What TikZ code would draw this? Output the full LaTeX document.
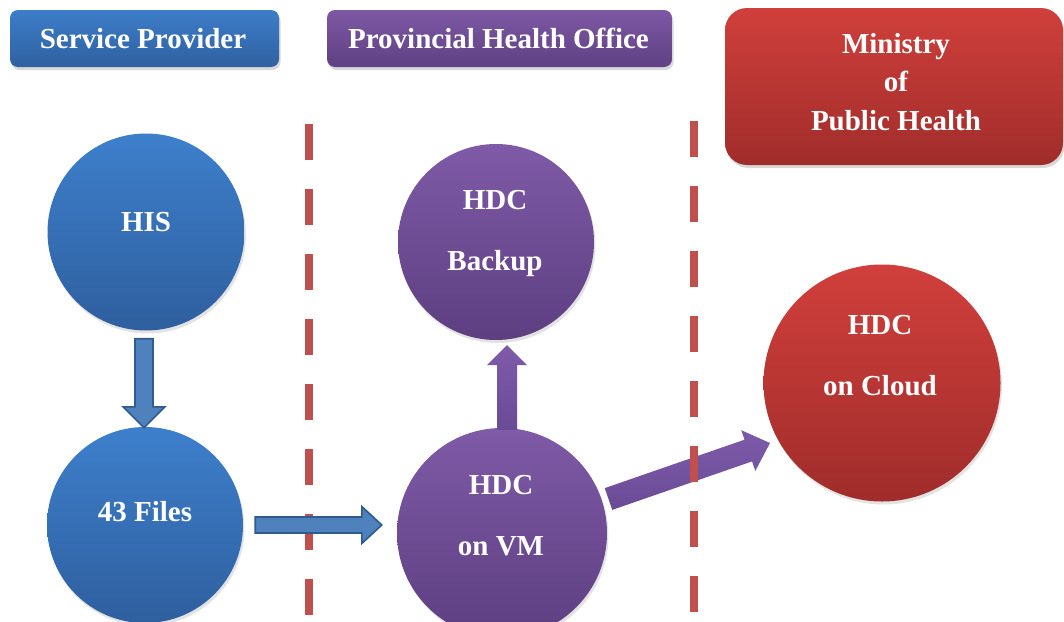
\documentclass[tikz,border=0pt]{standalone}
\usepackage{fontspec}
\setmainfont{Liberation Serif}
\usetikzlibrary{calc,shadows}
\definecolor{bluetop}{HTML}{3E80CD}
\definecolor{bluebot}{HTML}{2E5E9D}
\definecolor{purtop}{HTML}{805BA8}
\definecolor{purbot}{HTML}{5C3E80}
\definecolor{redtop}{HTML}{D2403C}
\definecolor{redbot}{HTML}{9E2C2A}
\definecolor{dashred}{HTML}{C0504D}
\definecolor{arrblue}{HTML}{4F81BD}
\definecolor{arrblueline}{HTML}{2F5B8E}
\definecolor{arrpurtop}{HTML}{7E5BA9}
\definecolor{arrpurbot}{HTML}{6A4B96}
\tikzset{
  txt/.style={text=white, font=\fontsize{29}{35}\selectfont\bfseries, align=center, inner sep=0pt},
  txtwide/.style={txt, font=\fontsize{29}{61}\selectfont\bfseries},
  txtmid/.style={txt, font=\fontsize{29}{38.5}\selectfont\bfseries},
  hdr/.style={rounded corners=8pt, inner sep=0pt,
    drop shadow={opacity=0.3, shadow xshift=1.5pt, shadow yshift=-3pt}},
  bubble/.style={circle, inner sep=0pt,
    drop shadow={opacity=0.22, shadow xshift=1.5pt, shadow yshift=-3pt}},
  grad/.style 2 args={path picture={
    \shade[top color=#1, bottom color=#2]
      ([shift={(-6pt,6pt)}]path picture bounding box.north west) rectangle
      ([shift={(6pt,-6pt)}]path picture bounding box.south east);}},
  bluefill/.style={grad={bluetop}{bluebot}},
  purfill/.style={grad={purtop}{purbot}},
  redfill/.style={grad={redtop}{redbot}},
  sepline/.style={draw=dashred, line width=8pt, dash pattern=on 36pt off 29pt},
  barrow/.style={fill=arrblue, draw=arrblueline, line width=1.6pt, line join=miter},
  parrow/.style={top color=arrpurtop, bottom color=arrpurbot},
}
% #1 style, #2 tail, #3 tip, #4 shaft half width, #5 head half width, #6 head length
\newcommand\blockarr[6]{%
  \path[#1] let \p1=(#2), \p2=(#3), \n1={atan2(\y2-\y1,\x2-\x1)} in
    ($(#2)+({\n1+90}:#4)$)
    -- ($(#3)+({\n1+180}:#6)+({\n1+90}:#4)$)
    -- ($(#3)+({\n1+180}:#6)+({\n1+90}:#5)$)
    -- (#3)
    -- ($(#3)+({\n1+180}:#6)+({\n1-90}:#5)$)
    -- ($(#3)+({\n1+180}:#6)+({\n1-90}:#4)$)
    -- ($(#2)+({\n1-90}:#4)$) -- cycle;}
\begin{document}
\begin{tikzpicture}[x=1pt,y=1pt]
\useasboundingbox (0,0) rectangle (1064,-621);
\fill[white] (0,0) rectangle (1064,-621);

% separators
\coordinate (s1a) at (309,-124);
\coordinate (s1b) at (309,-640);
\coordinate (s2a) at (694,-121);
\coordinate (s2b) at (694,-615);
\draw[sepline] (s1a) -- (s1b);

% headers
\node[hdr, bluefill, minimum width=269pt, minimum height=57pt] (sp) at (144.5,-38.5) {};
\node[txt] (spT) at (143,-38.5) {Service Provider};
\node[hdr, purfill, minimum width=345pt, minimum height=57pt] (pho) at (499.5,-38.5) {};
\node[txt] (phoT) at (498.5,-38.5) {Provincial Health Office};
\node[hdr, redfill, rounded corners=22pt, minimum width=338pt, minimum height=157pt] (moph) at (894,-86.5) {};
\node[txtmid] (mophT) at (896,-82) {Ministry\\of\\Public Health};

% circles
\node[bubble, bluefill, minimum size=197pt] (his) at (146,-232) {};
\node[txt] (hisT) at (146,-222) {HIS};
\node[bubble, bluefill, minimum size=196pt] (files) at (145,-525) {};
\node[txt] (filesT) at (145,-512) {43 Files};
\node[bubble, purfill, minimum size=196pt] (backup) at (496,-242) {};
\node[txtwide] (backupT) at (495,-233.5) {HDC\\Backup};
\node[bubble, purfill, minimum size=210pt] (vm) at (502,-533) {};
\node[txtwide] (vmT) at (501,-515.5) {HDC\\on VM};
\node[bubble, redfill, minimum size=237pt] (cloud) at (882,-383) {};
\node[txtwide] (cloudT) at (880,-355.5) {HDC\\on Cloud};

% arrow ends
\coordinate (a1s) at ($(his.south)+(-2,-8)$);
\coordinate (a1e) at ($(files.north)+(-1,-1)$);
\coordinate (a2s) at ($(files.east)+(12,0)$);
\coordinate (a2e) at ($(vm.west)+(-15,8)$);
\coordinate (a3s) at ($(vm.north)+(5,-2)$);
\coordinate (a3e) at ($(backup.south)+(11,-5)$);
\coordinate (a4s) at ($(vm)+(106.5,34)$);
\coordinate (a4e) at ($(cloud)+(-112,-60)$);

\blockarr{barrow}{a1s}{a1e}{9pt}{21pt}{21pt}
\blockarr{barrow}{a2s}{a2e}{8pt}{18.5pt}{20pt}
\blockarr{parrow}{a3s}{a3e}{10pt}{20pt}{20pt}
\blockarr{parrow}{a4s}{a4e}{11.5pt}{21.5pt}{23pt}

\draw[sepline] (s2a) -- (s2b);
\end{tikzpicture}
\end{document}
